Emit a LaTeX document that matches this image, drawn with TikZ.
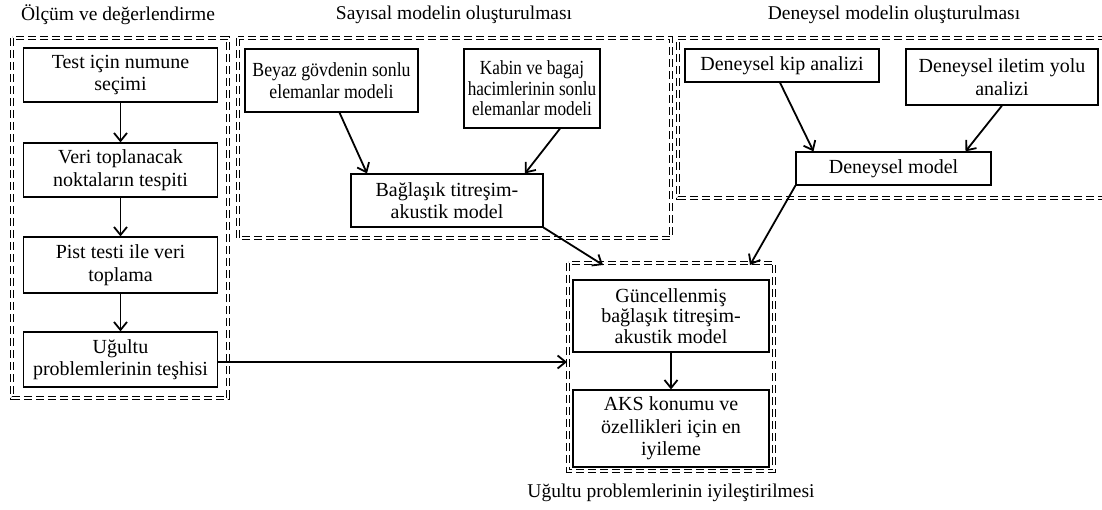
\documentclass[tikz,border=0pt]{standalone}
\usepackage{fontspec}
\setmainfont{Liberation Serif}
\newfontfamily\condA[FakeStretch=0.89]{Liberation Serif}
\newfontfamily\condB[FakeStretch=0.86]{Liberation Serif}
\usetikzlibrary{arrows.meta}
\begin{document}
\begin{tikzpicture}[x=1pt,y=-1pt,
  box/.style={draw, line width=1.2pt, align=center, inner sep=0pt, font=\fontsize{20}{22.5}\selectfont},
  grp/.style={draw, double, double distance=2pt, line width=1.2pt, dash pattern=on 8pt off 4pt},
  arr/.style={line width=1.8pt, -{Straight Barb[length=8pt,width=13pt,line width=1.8pt]}},
  ttl/.style={font=\fontsize{19.5}{22}\selectfont, inner sep=0pt}]
\useasboundingbox[fill=white] (0,0) rectangle (1102,510);

% group frames
\draw[grp] (12,38) rectangle (228,398);
\draw[grp] (238,38) rectangle (671,238);
\draw[grp] (1106,38) -- (678,38) -- (678,198) -- (1106,198);
\draw[grp] (568,263) rectangle (774,471);

% titles
\node[ttl] (tA) at (118,15) {Ölçüm ve değerlendirme};
\node[ttl] (tB) at (454,15) {Sayısal modelin oluşturulması};
\node[ttl] (tC) at (894,15) {Deneysel modelin oluşturulması};
\node[ttl] (tD) at (671,493) {Uğultu problemlerinin iyileştirilmesi};

% group 1
\node[box, minimum width=194pt, minimum height=54pt] (t1) at (120.5,75) {Test için numune\\seçimi};
\node[box, minimum width=194pt, minimum height=54pt] (t2) at (120.5,170) {Veri toplanacak\\noktaların tespiti};
\node[box, minimum width=194pt, minimum height=56pt] (t3) at (120.5,265) {Pist testi ile veri\\toplama};
\node[box, minimum width=194pt, minimum height=55pt] (t4) at (120.5,359.5) {Uğultu\\problemlerinin teşhisi};

% group 2
\node[box, minimum width=173pt, minimum height=63pt, font=\condA\fontsize{20}{22}\selectfont] (b1) at (331.5,80.5) {Beyaz gövdenin sonlu\\elemanlar modeli};
\node[box, minimum width=136pt, minimum height=79pt, font=\condB\fontsize{20}{20.5}\selectfont] (b2) at (532,88.5) {Kabin ve bagaj\\hacimlerinin sonlu\\elemanlar modeli};
\node[box, minimum width=192pt, minimum height=53pt] (b3) at (447,200.5) {Bağlaşık titreşim-\\akustik model};

% group 3
\node[box, minimum width=194pt, minimum height=33pt] (d1) at (782,65.5) {Deneysel kip analizi};
\node[box, minimum width=192pt, minimum height=56pt] (d2) at (1002,77) {Deneysel iletim yolu\\analizi};
\node[box, minimum width=195pt, minimum height=33pt] (d3) at (893.5,168.5) {Deneysel model};

% group 4
\node[box, minimum width=196pt, minimum height=72pt, font=\fontsize{20}{20.5}\selectfont] (g1) at (671,316) {Güncellenmiş\\bağlaşık titreşim-\\akustik model};
\node[box, minimum width=196pt, minimum height=77pt] (g2) at (671,428.5) {AKS konumu ve\\özellikleri için en\\iyileme};

\coordinate (gA) at (603,265);
\coordinate (gB) at (750,265);
\coordinate (gC) at (567,362);

% arrows
\draw[arr] (t1.south) -- (t2.north);
\draw[arr] (t2.south) -- (t3.north);
\draw[arr] (t3.south) -- (t4.north);
\draw[arr] ([xshift=8pt]b1.south) -- ([xshift=-80pt]b3.north);
\draw[arr] ([xshift=28pt]b2.south) -- ([xshift=78pt]b3.north);
\draw[arr] ([xshift=-2pt]d1.south) -- ([xshift=-80pt]d3.north);
\draw[arr] (d2.south) -- ([xshift=72pt]d3.north);
\draw[arr] (b3.south east) -- (gA);
\draw[arr] (d3.south west) -- (gB);
\draw[arr] (t4.east |- gC) -- (gC);
\draw[arr] (g1.south) -- (g2.north);
\end{tikzpicture}
\end{document}
